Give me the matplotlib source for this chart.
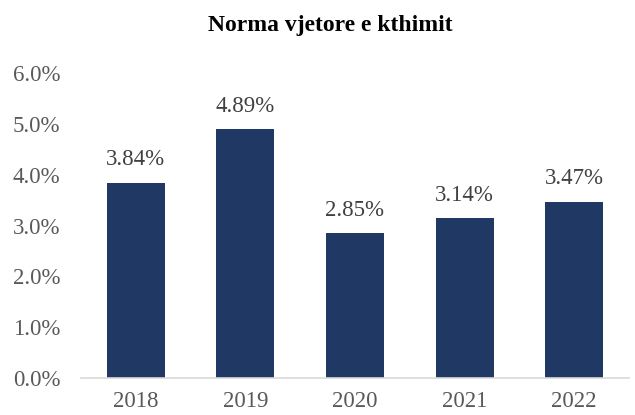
import matplotlib
matplotlib.use("Agg")
import matplotlib.pyplot as plt
from matplotlib.ticker import FuncFormatter

years = ["2018", "2019", "2020", "2021", "2022"]
values = [3.84, 4.89, 2.85, 3.14, 3.47]
title = "Norma vjetore e kthimit"

plt.rcParams['font.family'] = ['Liberation Serif', 'DejaVu Serif']

fig = plt.figure(figsize=(6.35, 4.15), dpi=100)
ax = fig.add_axes([81/635, 1-378/415, (629-81)/635, (378-73)/415])

x = range(len(years))
bars = ax.bar(x, values, width=0.53, color="#203864")
for xi, v in zip(x, values):
    ax.annotate(f"{v:.2f}%", (xi, v), xytext=(0, 9), textcoords="offset points",
                ha="center", va="bottom", fontsize=16.5, color="#404040")

ax.set_xlim(-0.5, len(years) - 0.5)
ax.set_ylim(0, 6)
ax.set_yticks([0, 1, 2, 3, 4, 5, 6])
ax.yaxis.set_major_formatter(FuncFormatter(lambda v, p: f"{v:.1f}%"))
ax.set_xticks(list(x))
ax.set_xticklabels(years)
ax.tick_params(axis="both", length=0, labelsize=16.5, labelcolor="#595959")
ax.tick_params(axis="y", pad=15)
ax.tick_params(axis="x", pad=9)
for s in ["top", "right", "left"]:
    ax.spines[s].set_visible(False)
ax.spines["bottom"].set_color("#d9d9d9")
ax.spines["bottom"].set_linewidth(1.2)

fig.text(330/635, 1-26/415, title, ha="center", va="center", fontsize=17, fontweight="bold", color="black")

fig.savefig("out.png", dpi=100)
